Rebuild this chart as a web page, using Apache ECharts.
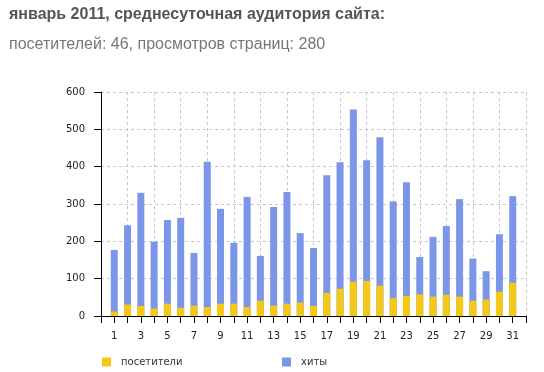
<!DOCTYPE html>
<html><head><meta charset="utf-8">
<script src="https://cdn.jsdelivr.net/npm/echarts@6/dist/echarts.min.js"></script>
<style>html,body{margin:0;padding:0;background:#fff}#c{width:544px;height:372px}</style>
</head><body><div id="c"></div>
<script>
const titleText = 'январь 2011, среднесуточная аудитория сайта:';
const subText = 'посетителей: 46, просмотров страниц: 280';
const days = [1,2,3,4,5,6,7,8,9,10,11,12,13,14,15,16,17,18,19,20,21,22,23,24,25,26,27,28,29,30,31];
const hits = [177,243,330,199,257,263,169,413,287,196,319,161,292,332,222,182,377,412,553,417,479,307,358,158,212,241,313,154,120,219,321];
const visitors = [12,31,27,20,33,22,28,24,33,33,24,41,28,33,36,27,62,73,92,94,81,48,54,58,52,57,52,41,44,65,89];
const seriesNames = ['посетители','хиты'];
const yTicks = [0,100,200,300,400,500,600];

const chart = echarts.init(document.getElementById('c'));
const font = 'DejaVu Sans';
chart.setOption({
  animation:false,
  backgroundColor:'#fff',
  title:[
    {text:titleText,left:9,top:7,padding:0,textStyle:{fontFamily:'Liberation Sans',fontWeight:'bold',fontSize:16,color:'#555'}},
    {text:subText,left:9,top:37,padding:0,textStyle:{fontFamily:'Liberation Sans',fontWeight:'normal',fontSize:16,color:'#777'}}
  ],
  legend:[
    {data:[seriesNames[0]],left:102,top:357,padding:0,icon:'rect',itemWidth:9,itemHeight:9,textStyle:{fontFamily:font,fontSize:10,color:'#333',padding:[0,0,0,5]}},
    {data:[seriesNames[1]],left:282,top:357,padding:0,icon:'rect',itemWidth:9,itemHeight:9,textStyle:{fontFamily:font,fontSize:10,color:'#333',padding:[0,0,0,5]}}
  ],
  grid:{left:101,right:18,top:92,bottom:56,containLabel:false},
  xAxis:[
    {type:'value',min:0,max:32,interval:1,
     axisLine:{show:true,lineStyle:{color:'#000',width:1}},
     axisTick:{show:true,length:7,lineStyle:{color:'#000'}},
     axisLabel:{margin:15,fontFamily:font,fontSize:10,color:'#222',
       formatter:v=>(days.includes(v)&&v%2===1)?String(v):''},
     splitLine:{show:false}},
    {type:'value',min:0,max:32,interval:2,position:'bottom',
     axisLine:{show:false},axisTick:{show:false},axisLabel:{show:false},
     splitLine:{show:true,lineStyle:{color:'#c4c8cc',type:[3,3],width:1}}}
  ],
  yAxis:{type:'value',min:0,max:600,interval:100,
    axisLine:{show:true,lineStyle:{color:'#000',width:1}},
    axisTick:{show:true,length:7,lineStyle:{color:'#000'}},
    axisLabel:{margin:16,fontFamily:font,fontSize:10,color:'#222',
      formatter:v=>yTicks.includes(v)?String(v):''},
    splitLine:{show:true,lineStyle:{color:'#c4c8cc',type:[3,3],width:1}}},
  series:[
    {name:seriesNames[1],type:'bar',xAxisIndex:0,barWidth:7,itemStyle:{color:'#7b96e8'},
     data:days.map((d,i)=>[d,hits[i]]),z:2},
    {name:seriesNames[0],type:'bar',xAxisIndex:0,barWidth:7,barGap:'-100%',itemStyle:{color:'#f3c816'},
     data:days.map((d,i)=>[d,visitors[i]]),z:3}
  ]
});
</script></body></html>
